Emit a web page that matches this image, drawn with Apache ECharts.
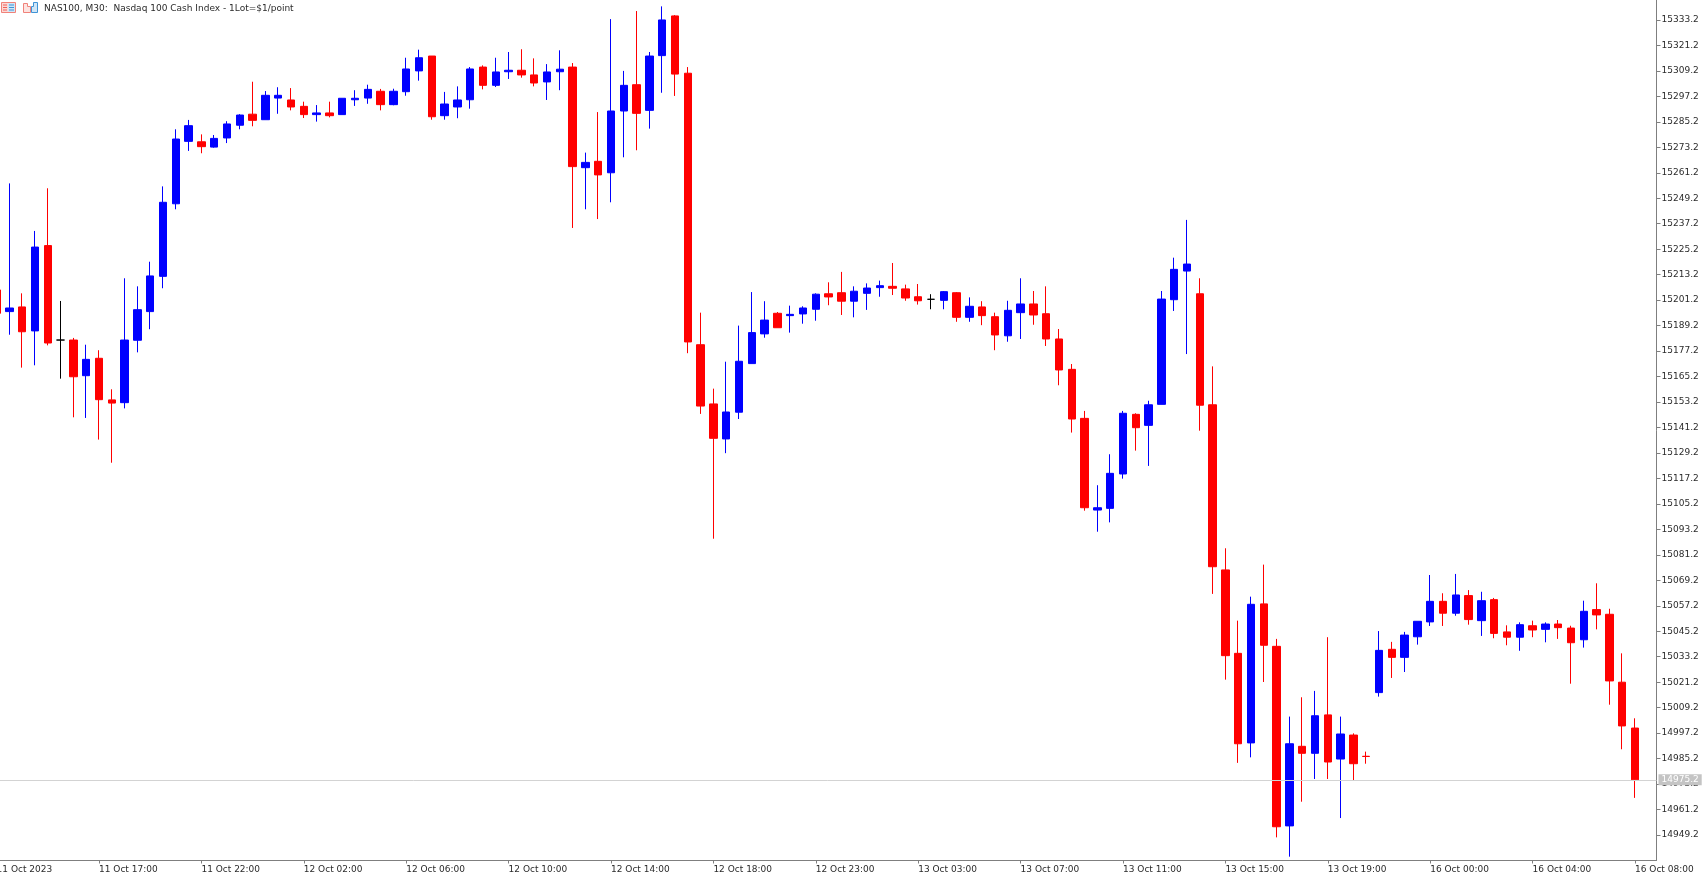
<!DOCTYPE html>
<html>
<head>
<meta charset="utf-8">
<title>NAS100, M30</title>
<style>html,body{margin:0;padding:0;background:#fff;overflow:hidden}#chart{width:1707px;height:879px}</style>
<script src="https://cdn.jsdelivr.net/npm/echarts@6/dist/echarts.min.js"></script>
</head>
<body>
<div id="chart"></div>
<script>
const chartTitle = 'NAS100, M30:  Nasdaq 100 Cash Index - 1Lot=$1/point';
const lastPrice = 14975.2;
const opens = [
15206.0,15195.8,15198.0,15186.7,15226.9,15182.4,15182.4,15165.6,15173.8,15154.2,
15152.9,15182.3,15195.8,15212.4,15246.6,15276.0,15275.8,15273.3,15277.6,15283.6,
15288.8,15286.2,15296.4,15295.5,15292.5,15288.6,15289.4,15288.6,15295.6,15296.4,
15299.6,15293.3,15299.4,15309.2,15316.2,15288.1,15292.2,15295.6,15311.0,15302.4,
15308.8,15309.5,15307.3,15304.0,15308.8,15311.0,15263.6,15266.6,15261.2,15290.3,
15302.7,15290.6,15316.4,15335.1,15308.1,15180.2,15152.3,15135.8,15148.4,15171.3,
15185.3,15195.0,15193.9,15194.7,15196.9,15204.2,15204.7,15200.7,15204.4,15207.1,
15207.7,15206.5,15202.8,15201.6,15201.1,15204.7,15193.1,15198.0,15193.4,15184.4,
15195.3,15199.4,15194.8,15182.9,15168.6,15145.5,15102.3,15103.1,15119.3,15147.4,
15142.2,15152.1,15201.4,15214.9,15204.2,15151.9,15074.1,15034.8,14992.6,15058.1,
15038.1,14953.5,14991.0,14987.7,15005.8,14985.0,14996.3,14986.3,15016.3,15036.7,
15032.9,15042.6,15049.6,15059.3,15053.7,15062.0,15050.2,15060.1,15044.9,15042.4,
15047.8,15046.1,15048.6,15046.7,15041.2,15055.4,15053.2,15021.2,14999.6];
const closes = [
15195.0,15197.5,15186.3,15226.2,15181.0,15182.4,15165.1,15173.3,15154.3,15152.7,
15182.4,15196.7,15212.6,15247.3,15277.1,15283.4,15273.5,15277.4,15284.2,15288.4,
15285.9,15297.7,15297.7,15292.2,15288.6,15289.4,15288.1,15296.3,15296.3,15300.5,
15293.3,15299.6,15310.1,15315.4,15287.6,15293.6,15295.5,15310.1,15302.4,15308.7,
15309.5,15307.3,15303.5,15308.7,15310.0,15264.1,15266.1,15260.2,15290.3,15302.4,
15289.2,15316.2,15333.2,15307.7,15181.5,15151.3,15136.1,15148.5,15172.4,15185.9,
15191.8,15188.2,15194.5,15197.5,15204.0,15202.7,15200.7,15205.4,15206.9,15208.0,
15206.8,15202.2,15200.9,15201.6,15205.2,15193.1,15198.3,15193.9,15184.8,15196.4,
15199.4,15194.2,15182.9,15168.3,15145.2,15103.4,15103.4,15119.6,15147.9,15141.1,
15151.9,15201.7,15215.7,15218.2,15151.7,15075.6,15033.7,14992.2,15057.9,15038.6,
14953.1,14992.2,14987.7,15005.4,14983.6,14996.8,14982.8,14986.2,15036.2,15032.9,
15043.4,15049.9,15059.3,15053.7,15062.3,15050.7,15059.6,15044.2,15042.4,15048.3,
15045.8,15048.6,15046.9,15039.8,15054.6,15052.9,15021.8,15000.6,14975.2];
const lows = [
15190.0,15184.9,15169.4,15170.5,15179.9,15164.2,15146.0,15145.7,15135.5,15124.6,
15150.2,15176.6,15187.5,15206.8,15244.0,15271.5,15270.4,15273.0,15275.2,15281.7,
15283.1,15286.2,15289.0,15290.6,15287.0,15285.3,15287.3,15288.6,15292.7,15293.7,
15290.6,15293.0,15297.5,15304.6,15286.2,15286.2,15286.9,15291.4,15300.5,15301.6,
15305.4,15306.0,15301.9,15295.5,15300.1,15235.2,15244.0,15239.4,15247.3,15268.5,
15271.8,15282.0,15298.9,15297.4,15176.2,15147.6,15088.8,15129.1,15145.2,15171.3,
15183.5,15188.2,15185.9,15190.1,15191.5,15198.8,15194.2,15193.1,15196.6,15202.8,
15203.6,15200.9,15199.1,15196.9,15196.9,15191.0,15191.0,15189.4,15177.6,15181.6,
15182.9,15189.6,15179.6,15161.1,15138.8,15102.0,15092.1,15096.5,15117.1,15130.3,
15123.1,15152.1,15196.1,15175.8,15139.7,15062.8,15022.4,14983.2,14985.8,15021.3,
14948.1,14939.0,14964.9,14975.6,14975.6,14957.2,14975.1,14982.8,15014.4,15023.2,
15026.0,15038.9,15047.7,15047.7,15052.5,15048.3,15043.0,15041.9,15038.6,15036.0,
15042.4,15040.0,15041.6,15020.5,15037.5,15046.1,15010.6,14989.6,14966.7];
const highs = [
15209.0,15256.2,15204.4,15233.8,15253.9,15200.8,15183.4,15180.2,15177.6,15159.2,
15211.5,15207.7,15219.3,15254.8,15281.7,15286.1,15279.3,15279.0,15285.5,15288.8,
15304.1,15299.7,15301.5,15301.1,15294.7,15293.1,15294.7,15296.3,15300.1,15302.7,
15300.7,15300.8,15315.4,15319.2,15316.2,15299.3,15301.9,15311.0,15311.8,15315.4,
15318.1,15319.4,15315.1,15312.4,15318.9,15312.9,15270.7,15289.8,15333.6,15309.2,
15337.4,15318.1,15339.6,15335.5,15311.0,15195.3,15159.5,15172.2,15189.2,15205.0,
15200.7,15195.6,15198.6,15198.3,15204.4,15209.6,15214.5,15207.7,15209.1,15210.4,
15218.7,15208.5,15208.8,15204.0,15205.5,15205.0,15202.5,15200.7,15195.3,15200.9,
15211.5,15205.5,15207.7,15187.6,15171.1,15149.0,15114.0,15128.6,15149.0,15147.9,
15153.8,15205.5,15221.2,15239.0,15211.5,15170.0,15084.3,15050.2,15061.5,15076.6,
15041.6,15005.0,15014.1,15017.1,15042.4,15005.0,14997.1,14988.5,15045.3,15040.2,
15044.9,15049.9,15071.7,15063.1,15072.2,15064.6,15063.8,15060.9,15048.0,15049.4,
15050.2,15049.4,15050.5,15047.8,15059.6,15067.8,15055.8,15034.8,15004.2];
const timeLabels = ['11 Oct 2023','11 Oct 17:00','11 Oct 22:00','12 Oct 02:00','12 Oct 06:00','12 Oct 10:00',
'12 Oct 14:00','12 Oct 18:00','12 Oct 23:00','13 Oct 03:00','13 Oct 07:00','13 Oct 11:00','13 Oct 15:00',
'13 Oct 19:00','16 Oct 00:00','16 Oct 04:00','16 Oct 08:00'];
const barsPerLabel = 8;
const priceTicks = [15333.2,15321.2,15309.2,15297.2,15285.2,15273.2,15261.2,15249.2,15237.2,15225.2,15213.2,
15201.2,15189.2,15177.2,15165.2,15153.2,15141.2,15129.2,15117.2,15105.2,15093.2,15081.2,15069.2,15057.2,
15045.2,15033.2,15021.2,15009.2,14997.2,14985.2,14973.2,14961.2,14949.2];

const FONT = '"DejaVu Sans"';
const TEXT = '#2b2b2b';
const AXIS = '#7f7f7f';
const UP = '#0000ff', DOWN = '#ff0000';
const rows = opens.map((o, i) => [i, o, closes[i], lows[i], highs[i]]);
const timeTicks = timeLabels.map((_, k) => k * barsPerLabel);

const chart = echarts.init(document.getElementById('chart'), null, {renderer: 'canvas'});
chart.setOption({
  animation: false,
  backgroundColor: '#ffffff',
  title: {text: chartTitle, left: 44, top: 4, padding: 0,
    textStyle: {fontFamily: FONT, fontSize: 9, fontWeight: 'normal', color: TEXT}},
  grid: {left: -12, right: 50.5, top: 0, bottom: 18.5, outerBoundsMode: 'none'},
  xAxis: {
    type: 'value', min: -0.671875, max: 129.68, splitLine: {show: false},
    axisLine: {onZero: false, lineStyle: {color: AXIS, width: 1}},
    axisTick: {length: 3, lineStyle: {color: AXIS}, customValues: timeTicks},
    axisLabel: {
      customValues: timeTicks, align: 'left', margin: 5, color: TEXT, fontFamily: FONT, fontSize: 9,
      hideOverlap: false, showMinLabel: true, showMaxLabel: true,
      formatter: v => timeLabels[Math.round(v / barsPerLabel)]
    }
  },
  yAxis: {
    type: 'value', position: 'right', min: 14937.2, max: 15342.6, scale: true, splitLine: {show: false},
    axisLine: {show: true, onZero: false, lineStyle: {color: AXIS, width: 1}},
    axisTick: {show: true, length: 4, lineStyle: {color: AXIS}, customValues: priceTicks},
    axisLabel: {
      customValues: priceTicks, margin: 5, padding: [2, 0, 0, 0], color: TEXT, fontFamily: FONT, fontSize: 9,
      hideOverlap: false, formatter: v => v.toFixed(1)
    }
  },
  series: [{
    type: 'candlestick',
    data: rows,
    encode: {x: 0, y: [1, 2, 3, 4]},
    barWidth: 8,
    itemStyle: {color: UP, color0: DOWN, borderColor: UP, borderColor0: DOWN,
      borderColorDoji: '#000000', borderWidth: 1},
    markLine: {
      silent: true, symbol: 'none', animation: false, z: 20,
      lineStyle: {color: '#d3d3d3', width: 1, type: 'solid'},
      label: {show: true, position: 'end', distance: 2, color: '#ffffff', fontFamily: FONT, fontSize: 9,
        backgroundColor: '#c4c4c4', padding: [1, 3, 1, 3], formatter: () => lastPrice.toFixed(1)},
      data: [{yAxis: lastPrice}]
    }
  }],
  graphic: [
    {type: 'rect', shape: {x: 1.5, y: 2.5, width: 14, height: 10}, z: 50, style: {fill: '#fbd9d6', stroke: '#f0827a', lineWidth: 1}},
    {type: 'rect', shape: {x: 8, y: 3, width: 7, height: 9}, z: 51, style: {fill: '#cfe6f7', stroke: null}},
    {type: 'polyline', shape: {points: [[3, 5], [7, 5]]}, z: 52, style: {stroke: '#f0605a', lineWidth: 1}},
    {type: 'polyline', shape: {points: [[3, 7.5], [7, 7.5]]}, z: 52, style: {stroke: '#f0605a', lineWidth: 1}},
    {type: 'polyline', shape: {points: [[3, 10], [7, 10]]}, z: 52, style: {stroke: '#f0605a', lineWidth: 1}},
    {type: 'polyline', shape: {points: [[9, 5], [14, 5]]}, z: 52, style: {stroke: '#3f93d6', lineWidth: 1}},
    {type: 'polyline', shape: {points: [[9, 7.5], [14, 7.5]]}, z: 52, style: {stroke: '#3f93d6', lineWidth: 1}},
    {type: 'polyline', shape: {points: [[9, 10], [14, 10]]}, z: 52, style: {stroke: '#3f93d6', lineWidth: 1}},
    {type: 'polygon', shape: {points: [[23.5, 3.5], [27.5, 3.5], [27.5, 6.5], [30.5, 6.5], [30.5, 12.5], [23.5, 12.5]]}, z: 50, style: {fill: '#fde3e0', stroke: '#f0827a', lineWidth: 1}},
    {type: 'polygon', shape: {points: [[31.5, 6.5], [33.5, 6.5], [33.5, 2.5], [37.5, 2.5], [37.5, 12.5], [31.5, 12.5]]}, z: 50, style: {fill: '#cfe6f7', stroke: '#3f93d6', lineWidth: 1}}
  ]
});
</script>
</body>
</html>
